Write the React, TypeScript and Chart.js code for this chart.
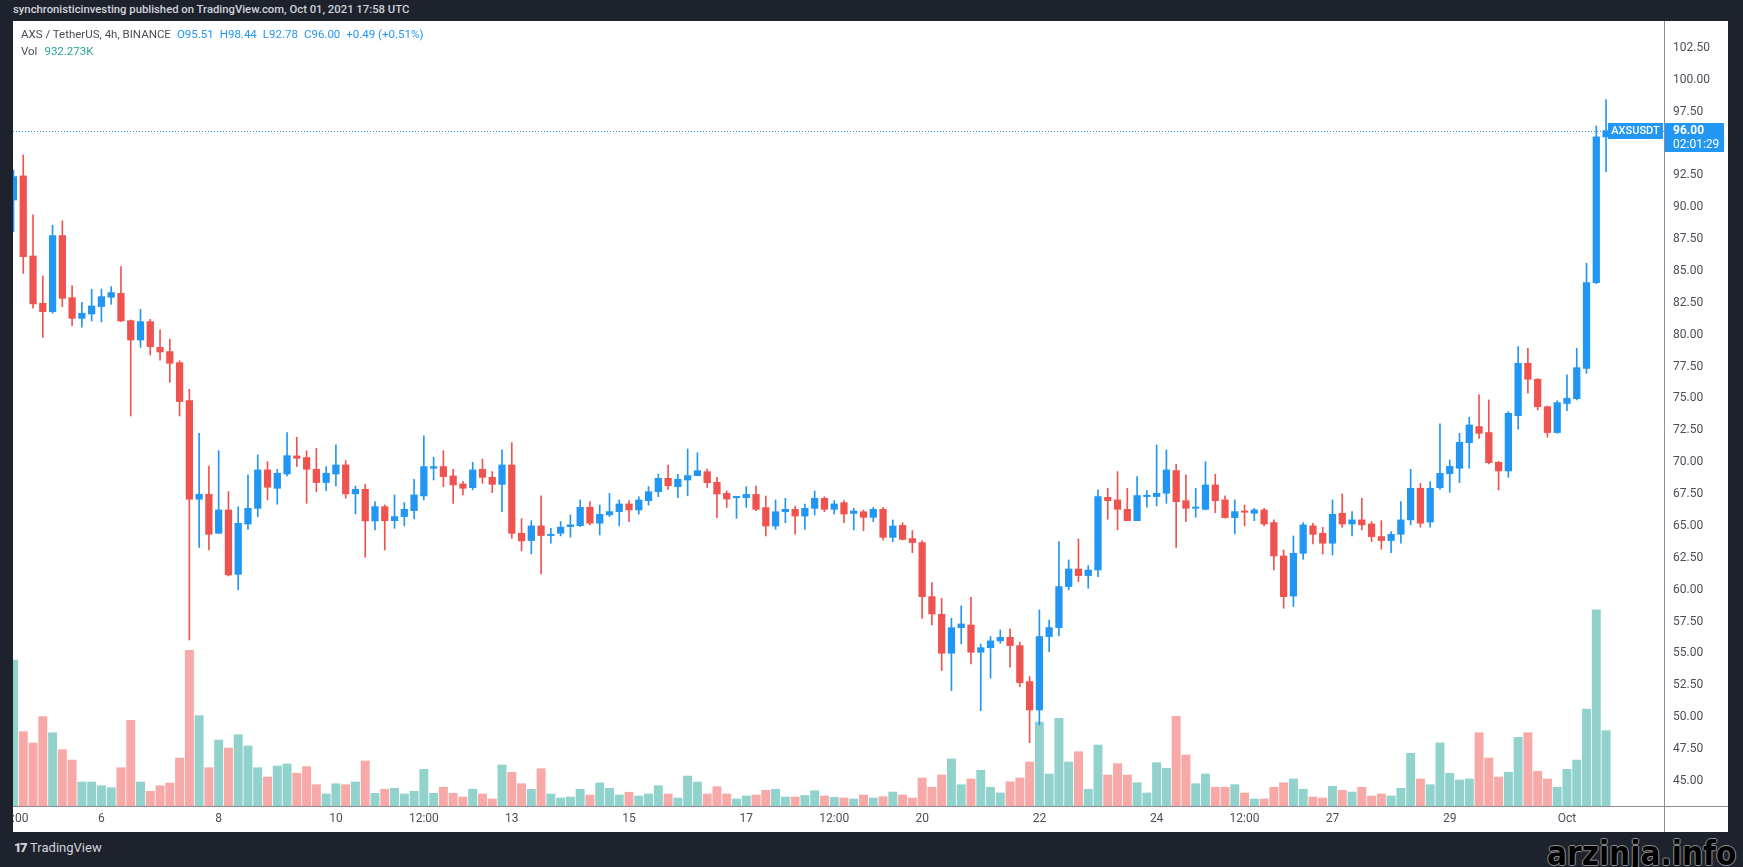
import React, { useEffect, useRef } from "react";
import { Chart, registerables } from "chart.js";

Chart.register(...registerables);

// ---- data (AXS/USDT, 4h candles, Sep 4 12:00 → Oct 1 16:00) ----
const OPEN = [
  90.56, 92.45, 86.17, 82.46, 81.8, 87.77, 82.9, 81.28, 81.62, 82.2,
  82.93, 83.24, 81.1, 79.58, 81.02, 79.0, 78.67, 77.8, 74.83, 67.09,
  67.48, 64.42, 66.25, 61.2, 65.15, 66.38, 69.39, 67.95, 69.07, 70.49,
  70.36, 69.44, 68.4, 69.07, 69.78, 67.51, 67.87, 65.39, 66.51, 65.41,
  65.73, 66.2, 67.35, 69.52, 69.65, 68.92, 68.29, 68.0, 69.44, 68.81,
  68.26, 69.78, 64.42, 63.85, 65.0, 64.24, 64.42, 64.94, 65.02, 66.46,
  65.21, 65.86, 66.12, 66.72, 66.25, 66.98, 67.68, 68.73, 68.08, 68.6,
  68.94, 69.25, 68.42, 67.55, 67.21, 67.21, 67.47, 66.43, 64.99, 66.11,
  66.3, 65.77, 66.38, 67.16, 66.3, 66.82, 65.98, 66.11, 65.67, 66.3,
  64.1, 65.04, 64.0, 63.69, 59.45, 58.07, 55.01, 57.02, 57.23, 55.09,
  55.45, 55.98, 56.26, 55.61, 52.79, 50.56, 56.32, 57.02, 60.24, 61.62,
  61.1, 61.54, 67.24, 67.04, 66.3, 65.41, 67.3, 67.3, 67.56, 69.34,
  66.98, 66.38, 66.3, 68.21, 67.04, 65.65, 66.17, 65.99, 66.25, 65.26,
  62.64, 59.5, 62.85, 65.0, 64.42, 63.64, 65.99, 65.15, 65.47, 65.15,
  64.16, 63.85, 64.34, 65.47, 67.95, 65.3, 68.0, 69.1, 69.52, 71.53,
  72.79, 72.32, 69.99, 69.31, 73.65, 77.75, 76.5, 74.35, 72.32, 74.6,
  74.98, 77.36, 84.08, 95.51,
];
const HIGH = [
  92.9, 94.09, 89.39, 84.6, 88.58, 88.92, 83.84, 82.54, 83.56, 83.58,
  83.77, 85.33, 81.15, 81.99, 81.2, 80.37, 79.64, 77.96, 75.71, 72.26,
  69.7, 70.9, 67.69, 66.51, 69.0, 70.56, 70.04, 69.44, 72.32, 71.95,
  70.9, 71.09, 69.65, 71.35, 70.12, 68.13, 68.26, 66.9, 66.64, 67.43,
  66.83, 68.66, 72.06, 70.38, 70.9, 69.44, 68.47, 69.99, 70.25, 69.26,
  70.96, 71.53, 65.57, 65.41, 67.35, 64.81, 65.34, 65.86, 67.04, 66.9,
  66.64, 67.56, 67.04, 66.98, 67.29, 68.08, 69.07, 69.77, 69.04, 71.03,
  70.74, 69.46, 68.81, 67.74, 67.29, 68.08, 68.13, 67.34, 67.03, 67.16,
  66.56, 66.72, 67.74, 67.29, 66.98, 66.98, 66.38, 66.25, 66.45, 66.45,
  65.46, 65.25, 64.63, 63.84, 60.55, 59.32, 57.75, 58.72, 59.4, 55.74,
  56.32, 56.84, 56.92, 55.87, 53.18, 58.41, 57.62, 63.77, 62.33, 63.98,
  61.88, 67.82, 67.95, 69.26, 67.95, 68.87, 67.77, 71.35, 70.96, 69.83,
  69.0, 67.95, 70.04, 69.05, 67.35, 67.04, 66.64, 66.38, 66.38, 65.47,
  63.11, 64.21, 65.26, 65.21, 64.89, 67.04, 67.51, 66.12, 67.17, 65.34,
  65.41, 64.55, 66.9, 69.44, 68.34, 68.47, 73.0, 70.17, 72.26, 73.52,
  75.27, 74.88, 70.05, 73.96, 79.06, 78.93, 76.55, 74.4, 74.82, 76.84,
  78.93, 85.6, 96.37, 98.44,
];
const LOW = [
  88.08, 84.8, 82.07, 79.79, 81.68, 82.2, 80.71, 80.58, 81.07, 81.0,
  82.38, 81.02, 73.62, 79.0, 78.4, 78.0, 76.26, 73.62, 56.05, 63.32,
  63.11, 64.42, 61.07, 59.98, 64.73, 65.73, 67.04, 66.7, 68.92, 69.65,
  66.77, 67.69, 67.77, 68.13, 67.17, 65.94, 62.54, 64.68, 63.11, 64.81,
  65.0, 65.55, 67.04, 68.6, 68.08, 66.77, 67.43, 67.82, 68.34, 67.61,
  66.12, 64.03, 63.04, 62.8, 61.23, 63.64, 64.21, 64.11, 64.94, 65.08,
  64.29, 65.73, 65.0, 65.33, 65.93, 66.64, 67.29, 67.87, 67.21, 67.37,
  68.94, 68.02, 65.64, 66.45, 65.59, 66.45, 66.19, 64.21, 64.73, 65.25,
  64.36, 64.73, 65.85, 66.11, 65.93, 65.25, 64.68, 64.62, 65.33, 63.89,
  63.76, 63.89, 62.9, 57.75, 57.23, 53.65, 52.08, 55.74, 54.17, 50.51,
  53.05, 55.79, 53.91, 52.39, 48.0, 49.39, 55.14, 56.37, 59.98, 60.63,
  60.11, 61.02, 65.52, 64.68, 65.41, 65.41, 66.46, 66.56, 66.77, 63.32,
  65.34, 65.68, 66.25, 66.04, 65.6, 64.37, 65.0, 65.41, 65.0, 61.55,
  58.54, 58.67, 62.38, 63.58, 62.8, 62.72, 64.89, 64.21, 64.68, 63.77,
  63.17, 62.9, 63.64, 65.08, 64.9, 64.9, 67.87, 67.63, 68.39, 69.52,
  71.87, 69.86, 67.82, 68.81, 72.58, 75.4, 74.09, 71.95, 72.26, 74.04,
  74.88, 76.97, 84.0, 92.78,
];
const CLOSE = [
  92.4, 86.12, 82.41, 81.8, 87.77, 82.85, 81.28, 81.68, 82.25, 82.98,
  83.3, 81.07, 79.58, 81.02, 79.06, 78.64, 77.75, 74.75, 67.09, 67.48,
  64.34, 66.25, 61.15, 65.2, 66.38, 69.39, 68.03, 69.13, 70.51, 70.3,
  69.44, 68.4, 69.13, 69.78, 67.51, 67.87, 65.39, 66.51, 65.41, 65.73,
  66.3, 67.43, 69.65, 69.65, 68.87, 68.21, 67.95, 69.39, 68.81, 68.26,
  69.78, 64.42, 63.82, 65.0, 64.24, 64.34, 64.9, 65.08, 66.46, 65.21,
  65.91, 66.12, 66.72, 66.25, 67.03, 67.68, 68.73, 68.15, 68.65, 68.94,
  69.33, 68.39, 67.5, 67.11, 67.29, 67.47, 66.3, 64.99, 66.11, 66.3,
  65.77, 66.38, 67.16, 66.3, 66.72, 65.93, 66.17, 65.67, 66.3, 64.1,
  64.99, 63.94, 63.69, 59.45, 58.09, 55.01, 57.02, 57.31, 55.09, 55.45,
  55.98, 56.26, 55.61, 52.71, 50.56, 56.32, 57.02, 60.24, 61.62, 61.1,
  61.54, 67.3, 66.98, 66.3, 65.41, 67.38, 67.36, 67.56, 69.39, 66.9,
  66.38, 66.46, 68.21, 66.98, 65.65, 66.12, 66.07, 66.25, 65.15, 62.64,
  59.45, 62.85, 65.08, 64.34, 63.64, 65.91, 65.15, 65.47, 65.08, 64.16,
  63.85, 64.34, 65.47, 67.95, 65.21, 67.95, 69.12, 69.67, 71.56, 72.92,
  72.26, 69.96, 69.31, 73.83, 77.75, 76.5, 74.35, 72.32, 74.67, 75.01,
  77.41, 84.08, 95.51, 96.0,
];
// volume in thousands of AXS
const VOLUME_K = [
  1807, 920, 780, 1106, 907, 697, 569, 297, 297, 251,
  227, 474, 1061, 297, 182, 251, 285, 594, 1928, 1118,
  474, 817, 718, 883, 743, 474, 359, 495, 520, 405,
  487, 264, 149, 276, 264, 297, 557, 157, 207, 219,
  149, 182, 454, 157, 232, 157, 111, 207, 149, 87,
  508, 417, 276, 207, 462, 149, 99, 111, 207, 136,
  285, 219, 136, 170, 124, 149, 251, 149, 99, 371,
  297, 149, 239, 149, 87, 124, 136, 194, 207, 111,
  111, 130, 189, 124, 108, 99, 87, 136, 99, 115,
  173, 136, 99, 347, 232, 384, 582, 264, 334, 442,
  232, 161, 301, 347, 545, 1040, 396, 1086, 545, 672,
  207, 755, 384, 524, 384, 288, 161, 536, 467, 1110,
  631, 276, 396, 232, 232, 264, 161, 87, 87, 232,
  288, 334, 207, 111, 99, 244, 194, 173, 232, 124,
  149, 124, 219, 652, 334, 264, 780, 405, 322, 334,
  907, 594, 359, 417, 850, 907, 430, 334, 232, 454,
  569, 1201, 2430, 932.273,
];

const X_TICK_INDEX = [0, 9, 21, 33, 42, 51, 63, 75, 84, 93, 105, 117, 126, 135, 147, 159];
const X_TICK_TEXT = ["12:00", "6", "8", "10", "12:00", "13", "15", "17", "12:00", "20", "22", "24", "12:00", "27", "29", "Oct"];
const Y_TICKS = [
  45, 47.5, 50, 52.5, 55, 57.5, 60, 62.5, 65, 67.5, 70, 72.5, 75,
  77.5, 80, 82.5, 85, 87.5, 90, 92.5, 95, 97.5, 100, 102.5,
];

const SYMBOL = "AXSUSDT";
const TITLE = "AXS / TetherUS, 4h, BINANCE";
const COUNTDOWN = "02:01:29";
const HEADER = "synchronisticinvesting published on TradingView.com, Oct 01, 2021 17:58 UTC";

// ---- axis ranges ----
const X_MIN = -0.05;
const X_MAX = 168.93;
const Y_MIN = 43.03;
const Y_MAX = 104.6;
const VOL_MAX = 9718;

// ---- styles ----
const UP = "#2196f3";
const DOWN = "#ef5350";
const VOL_UP = "rgba(38,166,154,0.5)";
const VOL_DOWN = "rgba(239,83,80,0.5)";
const AXIS_LINE = "#8a8d96";
const TEXT = "#4a4e58";
const FONT = "Roboto";

const W = 1743;
const H = 867;
const PANEL_L = 13;
const PANEL_T = 21;
const PANEL_W = 1715;
const PANEL_H = 811;

const overlayPlugin = {
  id: "tvOverlay",
  beforeDatasetsDraw(chart: any) {
    const { ctx, chartArea } = chart;
    const last = CLOSE[CLOSE.length - 1];
    const y = Math.round(chart.scales.y.getPixelForValue(last)) + 0.5;
    ctx.save();
    ctx.strokeStyle = UP;
    ctx.lineWidth = 1;
    ctx.setLineDash([1, 2]);
    ctx.beginPath();
    ctx.moveTo(chartArea.left, y);
    ctx.lineTo(chartArea.right, y);
    ctx.stroke();
    ctx.restore();
  },
  afterDraw(chart: any) {
    const { ctx, chartArea, width, height } = chart;
    ctx.save();
    ctx.strokeStyle = AXIS_LINE;
    ctx.lineWidth = 1;
    ctx.beginPath();
    ctx.moveTo(0, Math.round(chartArea.bottom) + 0.5);
    ctx.lineTo(width, Math.round(chartArea.bottom) + 0.5);
    ctx.moveTo(Math.round(chartArea.right) + 0.5, 0);
    ctx.lineTo(Math.round(chartArea.right) + 0.5, height);
    ctx.stroke();

    const last = CLOSE[CLOSE.length - 1];
    const y = Math.round(chart.scales.y.getPixelForValue(last));
    const r = Math.round(chartArea.right);
    // symbol label
    ctx.fillStyle = UP;
    ctx.fillRect(r - 56, y - 8, 55, 16);
    ctx.fillStyle = "#ffffff";
    ctx.font = `500 11px ${FONT}`;
    ctx.textAlign = "center";
    ctx.textBaseline = "middle";
    ctx.fillText(SYMBOL, r - 28.5, y);
    // price box on axis
    ctx.fillStyle = UP;
    ctx.fillRect(r + 1, y - 8, 59, 29);
    ctx.fillStyle = "#ffffff";
    ctx.textAlign = "left";
    ctx.font = `bold 12px ${FONT}`;
    ctx.fillText(last.toFixed(2), r + 9, y);
    ctx.font = `12px ${FONT}`;
    ctx.fillText(COUNTDOWN, r + 9, y + 14);
    ctx.restore();
  },
};

function CandleChart() {
  const ref = useRef<HTMLCanvasElement | null>(null);
  useEffect(() => {
    if (!ref.current) return;
    const idx = OPEN.map((_, i) => i);
    const up = idx.map((i) => CLOSE[i] >= OPEN[i]);
    const chart = new Chart(ref.current, {
      type: "bar",
      data: {
        datasets: [
          {
            label: "body",
            data: idx.map((i) => ({ x: i, y: [OPEN[i], CLOSE[i]] })) as any,
            backgroundColor: up.map((u) => (u ? UP : DOWN)),
            borderWidth: 0,
            barThickness: 6.6,
            minBarLength: 1.3,
            grouped: false,
            yAxisID: "y",
            order: 0,
          },
          {
            label: "wick",
            data: idx.map((i) => ({ x: i, y: [LOW[i], HIGH[i]] })) as any,
            backgroundColor: up.map((u) => (u ? UP : DOWN)),
            borderWidth: 0,
            barThickness: 1,
            grouped: false,
            yAxisID: "y",
            order: 1,
          },
          {
            label: "volume",
            data: idx.map((i) => ({ x: i, y: VOLUME_K[i] })) as any,
            backgroundColor: up.map((u) => (u ? VOL_UP : VOL_DOWN)),
            borderWidth: 0,
            barThickness: 8.3,
            grouped: false,
            yAxisID: "v",
            order: 2,
          },
        ],
      },
      options: {
        animation: false,
        responsive: false,
        maintainAspectRatio: false,
        devicePixelRatio: 1,
        layout: { padding: 0 },
        plugins: { legend: { display: false }, tooltip: { enabled: false } },
        scales: {
          x: {
            type: "linear",
            min: X_MIN,
            max: X_MAX,
            offset: false,
            grid: { display: false, drawTicks: false },
            border: { display: false },
            afterBuildTicks: (s: any) => {
              s.ticks = X_TICK_INDEX.map((v) => ({ value: v }));
            },
            ticks: {
              autoSkip: false,
              maxRotation: 0,
              minRotation: 0,
              padding: 6,
              color: TEXT,
              font: { family: FONT, size: 12 },
              callback: (v: any) => {
                const k = X_TICK_INDEX.indexOf(Number(v));
                return k >= 0 ? X_TICK_TEXT[k] : "";
              },
            },
            afterFit: (s: any) => {
              s.height = 26;
              s.paddingLeft = 0;
              s.paddingRight = 0;
            },
          } as any,
          y: {
            position: "right",
            min: Y_MIN,
            max: Y_MAX,
            grid: { display: false, drawTicks: false },
            border: { display: false },
            afterBuildTicks: (s: any) => {
              s.ticks = Y_TICKS.map((v) => ({ value: v }));
            },
            ticks: {
              padding: 9,
              color: TEXT,
              font: { family: FONT, size: 12 },
              crossAlign: "near",
              callback: (v: any) => Number(v).toFixed(2),
            },
            afterFit: (s: any) => {
              s.width = 64;
              s.paddingTop = 0;
              s.paddingBottom = 0;
            },
          } as any,
          v: {
            display: false,
            position: "left",
            min: 0,
            max: VOL_MAX,
          },
        },
      } as any,
      plugins: [overlayPlugin],
    });
    return () => chart.destroy();
  }, []);
  return (
    <canvas
      ref={ref}
      width={PANEL_W}
      height={PANEL_H}
      style={{ width: PANEL_W, height: PANEL_H, display: "block" }}
    />
  );
}

export default function App() {
  const last = OPEN.length - 1;
  const chg = CLOSE[last] - CLOSE[last - 1];
  const pct = (chg / CLOSE[last - 1]) * 100;
  const sign = chg >= 0 ? "+" : "";
  const valStyle: React.CSSProperties = { color: UP, marginLeft: 6 };
  return (
    <div
      style={{
        position: "relative",
        width: W,
        height: H,
        background: "#1e222d",
        overflow: "hidden",
        fontFamily: FONT,
      }}
    >
      <style>{"body{margin:0;background:#1e222d}"}</style>
      <div
        style={{
          position: "absolute",
          left: 13,
          top: 2,
          fontSize: 11.3,
          lineHeight: "16px",
          color: "#d1d4dc",
          fontWeight: 500,
          whiteSpace: "nowrap",
        }}
      >
        {HEADER}
      </div>
      <div
        style={{
          position: "absolute",
          left: PANEL_L,
          top: PANEL_T,
          width: PANEL_W,
          height: PANEL_H,
          background: "#ffffff",
        }}
      >
        <CandleChart />
        <div
          style={{
            position: "absolute",
            left: 8,
            top: 5,
            fontSize: 11.5,
            lineHeight: "17px",
            color: TEXT,
            whiteSpace: "nowrap",
          }}
        >
          <div>
            <span>{TITLE}</span>
            <span style={valStyle}>O{OPEN[last].toFixed(2)}</span>
            <span style={valStyle}>H{HIGH[last].toFixed(2)}</span>
            <span style={valStyle}>L{LOW[last].toFixed(2)}</span>
            <span style={valStyle}>C{CLOSE[last].toFixed(2)}</span>
            <span style={valStyle}>
              {sign}
              {chg.toFixed(2)} ({sign}
              {pct.toFixed(2)}%)
            </span>
          </div>
          <div>
            <span>Vol</span>
            <span style={{ color: "#26a69a", marginLeft: 7 }}>{VOLUME_K[last].toFixed(3)}K</span>
          </div>
        </div>
      </div>
      <div
        style={{
          position: "absolute",
          left: 14,
          top: 840,
          color: "#d1d4dc",
          fontSize: 13,
          lineHeight: "16px",
          whiteSpace: "nowrap",
        }}
      >
        <span style={{ fontWeight: 900, letterSpacing: -1.5, marginRight: 4 }}>17</span>
        <span>TradingView</span>
      </div>
      <div
        style={{
          position: "absolute",
          left: 1547,
          top: 837,
          fontSize: 33,
          lineHeight: "33px",
          fontWeight: 700,
          fontFamily: "DejaVu Sans Condensed",
          color: "#000000",
          textShadow: "1px 0 0 #8c8c8c, -1px 0 0 #8c8c8c, 0 1px 0 #8c8c8c, 0 -1px 0 #8c8c8c",
          whiteSpace: "nowrap",
        }}
      >
        arzinja.info
      </div>
    </div>
  );
}
